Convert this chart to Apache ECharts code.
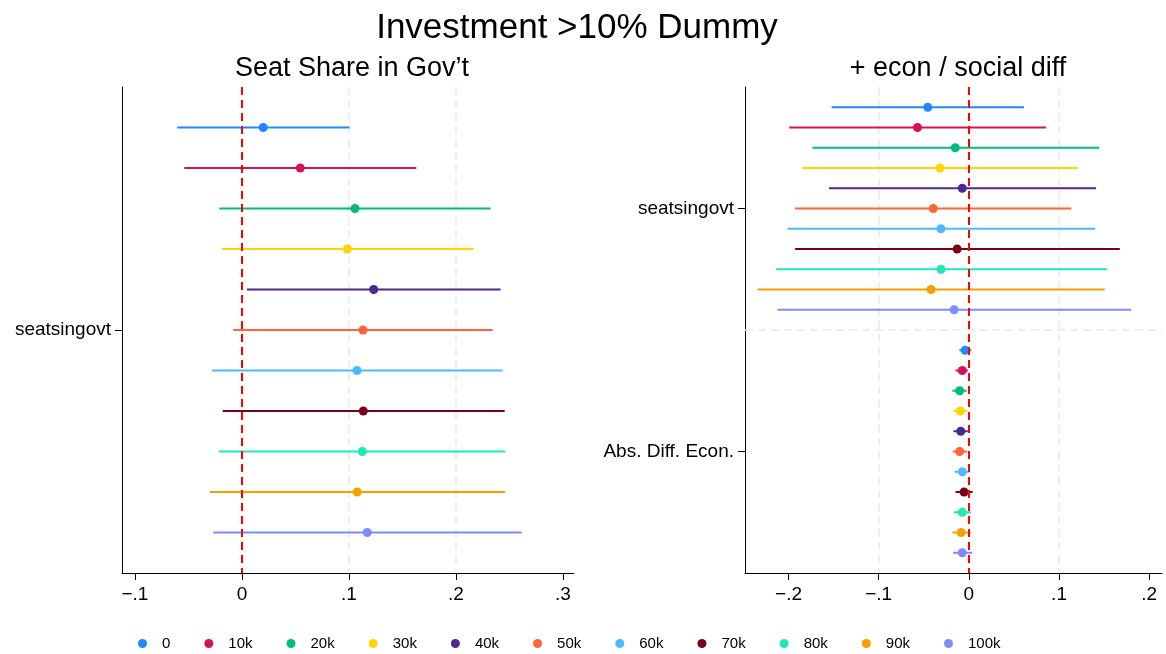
<!DOCTYPE html>
<html>
<head>
<meta charset="utf-8">
<title>Investment >10% Dummy</title>
<script src="https://cdn.jsdelivr.net/npm/echarts@6/dist/echarts.min.js"></script>
<style>
  html, body { margin: 0; padding: 0; background: #fff; }
  #chart { width: 1166px; height: 654px; }
</style>
</head>
<body>
<div id="chart"></div>
<script>
// Threshold groups (one colour each, shared by both panels)
const seriesNames = ['0', '10k', '20k', '30k', '40k', '50k', '60k', '70k', '80k', '90k', '100k'];
const seriesColors = ['#1e88ff', '#d41159', '#00bb7a', '#ffd400', '#4c2992', '#ff6437', '#4db9ff', '#7a0019', '#1de9b6', '#f5a000', '#7a8cff'];

// Panel 1: Seat Share in Gov't — coefficient and 95% CI per group
const leftCoef = [0.0199, 0.0545, 0.1056, 0.0984, 0.1231, 0.1131, 0.1075, 0.1134, 0.1125, 0.1078, 0.1171];
const leftLo   = [-0.0605, -0.0539, -0.0212, -0.0184, 0.0047, -0.0081, -0.0280, -0.0180, -0.0215, -0.0299, -0.0268];
const leftHi   = [0.1005, 0.1629, 0.2324, 0.2162, 0.2417, 0.2343, 0.2436, 0.2455, 0.2461, 0.2458, 0.2614];

// Panel 2: + econ / social diff — seatsingovt
const rSeatCoef = [-0.0456, -0.0570, -0.0151, -0.0318, -0.0073, -0.0395, -0.0310, -0.0130, -0.0310, -0.0420, -0.0163];
const rSeatLo   = [-0.1523, -0.1992, -0.1735, -0.1849, -0.1552, -0.1927, -0.2012, -0.1927, -0.2138, -0.2342, -0.2122];
const rSeatHi   = [0.0611, 0.0855, 0.1446, 0.1210, 0.1409, 0.1136, 0.1401, 0.1674, 0.1532, 0.1507, 0.1800];

// Panel 2: + econ / social diff — Abs. Diff. Econ.
const rEconCoef = [-0.0041, -0.0073, -0.0102, -0.0094, -0.0090, -0.0102, -0.0073, -0.0053, -0.0073, -0.0086, -0.0073];
const rEconLo   = [-0.0106, -0.0147, -0.0183, -0.0171, -0.0171, -0.0179, -0.0159, -0.0147, -0.0167, -0.0183, -0.0175];
const rEconHi   = [0.0029, -0.0012, -0.0024, -0.0020, -0.0012, -0.0020, 0.0008, 0.0041, 0.0024, 0.0020, 0.0037];

// Coefficient labels and axis ticks
const leftCategories = ['seatsingovt'];
const rightCategories = ['seatsingovt', 'Abs. Diff. Econ.'];
const leftTicks = [-0.1, 0, 0.1, 0.2, 0.3];
const rightTicks = [-0.2, -0.1, 0, 0.1, 0.2];

const titleText = 'Investment >10% Dummy';
const leftTitle = 'Seat Share in Gov\u2019t';
const rightTitle = '+ econ / social diff';

const FONT = '"Liberation Sans", Arial, Helvetica, sans-serif';
const nGroups = seriesNames.length;

// Row layout: each coefficient block holds one row per group, blocks separated by one empty row
const rowOf = (block, i) => block * (nGroups + 1) + i;
const blockCenter = (block) => block * (nGroups + 1) + (nGroups - 1) / 2;

function fmtTick(v) {
  if (Math.abs(v) < 1e-9) return '0';
  const s = Math.abs(v).toFixed(1).replace(/^0/, '');
  return (v < 0 ? '\u2212' : '') + s;
}

function renderCI(params, api) {
  const y = api.value(0);
  const a = api.coord([api.value(1), y]);
  const b = api.coord([api.value(3), y]);
  const c = api.coord([api.value(2), y]);
  const color = api.visual('color');
  return {
    type: 'group',
    children: [
      { type: 'line', shape: { x1: a[0], y1: a[1], x2: b[0], y2: b[1] }, style: { stroke: color, lineWidth: 2 } },
      { type: 'circle', shape: { cx: c[0], cy: c[1], r: 4.5 }, style: { fill: color } }
    ]
  };
}

const gridLine = { show: true, showMinLine: false, showMaxLine: false, lineStyle: { color: '#e9e9e9', width: 1.5, type: [8, 5] } };

function xAxisFor(gridIndex, min, max, ticks) {
  return {
    type: 'value', gridIndex, min, max,
    axisLine: { show: true, onZero: false, lineStyle: { color: '#000', width: 1 } },
    axisTick: { show: true, customValues: ticks, length: 7, lineStyle: { color: '#000' } },
    axisLabel: { customValues: ticks, formatter: fmtTick, fontSize: 19, color: '#000', fontFamily: FONT, margin: 12 },
    splitLine: gridLine
  };
}

function yAxisFor(gridIndex, nBlocks, cats) {
  const centers = cats.map((_, k) => blockCenter(k));
  return {
    type: 'value', gridIndex, inverse: true,
    min: -1, max: nBlocks * (nGroups + 1) - 1,
    axisLine: { show: true, onZero: false, lineStyle: { color: '#000', width: 1 } },
    axisTick: { show: true, customValues: centers, length: 7, lineStyle: { color: '#000' } },
    axisLabel: {
      customValues: centers, fontSize: 19, color: '#000', fontFamily: FONT, margin: 11,
      formatter: (v) => { const k = centers.findIndex(c => Math.abs(c - v) < 1e-6); return k >= 0 ? cats[k] : ''; }
    },
    splitLine: { show: false }
  };
}

const series = [];
seriesNames.forEach((name, i) => {
  series.push({
    type: 'custom', name, xAxisIndex: 0, yAxisIndex: 0, z: 3,
    itemStyle: { color: seriesColors[i] },
    renderItem: renderCI,
    encode: { x: [1, 2, 3], y: 0 },
    data: [[rowOf(0, i), leftLo[i], leftCoef[i], leftHi[i]]]
  });
  series.push({
    type: 'custom', name, xAxisIndex: 1, yAxisIndex: 1, z: 3,
    itemStyle: { color: seriesColors[i] },
    renderItem: renderCI,
    encode: { x: [1, 2, 3], y: 0 },
    data: [
      [rowOf(0, i), rSeatLo[i], rSeatCoef[i], rSeatHi[i]],
      [rowOf(1, i), rEconLo[i], rEconCoef[i], rEconHi[i]]
    ]
  });
});

// Reference line at zero in both panels, and the separator between coefficient blocks
const zeroLine = { color: '#ff0000', width: 2, type: [8, 5] };
series.push({
  type: 'line', xAxisIndex: 0, yAxisIndex: 0, data: [], silent: true, z: 4,
  markLine: { silent: true, symbol: 'none', label: { show: false }, lineStyle: zeroLine, data: [{ xAxis: 0 }] }
});
series.push({
  type: 'line', xAxisIndex: 1, yAxisIndex: 1, data: [], silent: true, z: 1,
  markLine: { silent: true, symbol: 'none', label: { show: false },
    lineStyle: { color: '#e9e9e9', width: 1.5, type: [8, 5] }, data: [{ yAxis: nGroups }] }
});
series.push({
  type: 'line', xAxisIndex: 1, yAxisIndex: 1, data: [], silent: true, z: 4,
  markLine: { silent: true, symbol: 'none', label: { show: false }, lineStyle: zeroLine, data: [{ xAxis: 0 }] }
});

const option = {
  backgroundColor: '#fff',
  animation: false,
  textStyle: { fontFamily: FONT },
  title: [
    { text: titleText, left: 572, top: 6, textAlign: 'center',
      textStyle: { fontSize: 35, fontWeight: 'normal', color: '#000', fontFamily: FONT } },
    { text: leftTitle, left: 347, top: 50, textAlign: 'center',
      textStyle: { fontSize: 27, fontWeight: 'normal', color: '#000', fontFamily: FONT } },
    { text: rightTitle, left: 953, top: 50, textAlign: 'center',
      textStyle: { fontSize: 27, fontWeight: 'normal', color: '#000', fontFamily: FONT } }
  ],
  legend: {
    data: seriesNames,
    left: 133, top: 631,
    icon: 'circle', itemWidth: 9, itemHeight: 9, itemGap: 34,
    textStyle: { fontSize: 15, color: '#000', fontFamily: FONT, padding: [0, 0, 0, 10] },
    selectedMode: false
  },
  grid: [
    { left: 122, top: 87, width: 452, height: 486 },
    { left: 745, top: 87, width: 417, height: 486 }
  ],
  xAxis: [
    xAxisFor(0, -0.1121, 0.3103, leftTicks),
    xAxisFor(1, -0.2483, 0.2142, rightTicks)
  ],
  yAxis: [
    yAxisFor(0, 1, leftCategories),
    yAxisFor(1, 2, rightCategories)
  ],
  series
};

const chart = echarts.init(document.getElementById('chart'), null, { renderer: 'canvas' });
chart.setOption(option);
</script>
</body>
</html>
